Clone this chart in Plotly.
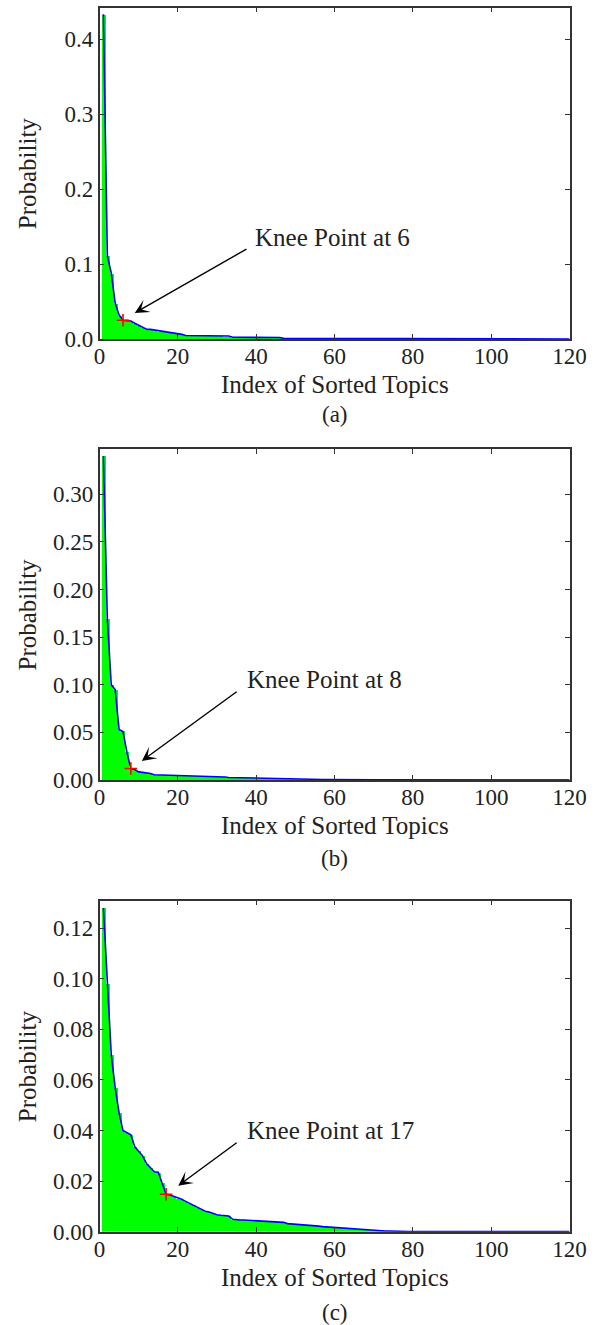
import plotly.graph_objects as go

# ---------------- data ----------------
topic_index = list(range(1, 121))

prob_a = [
    0.433, 0.111, 0.088, 0.048, 0.032, 0.025, 0.0245, 0.024, 0.021, 0.0185,
    0.015, 0.013, 0.0128, 0.012, 0.0105, 0.0098, 0.0097, 0.0085, 0.0072, 0.0067,
    0.0062, 0.0046, 0.0045, 0.0044, 0.0044, 0.0043, 0.0043, 0.0042, 0.0042, 0.0041,
    0.0041, 0.0040, 0.0040, 0.0024, 0.0024, 0.0023, 0.0023, 0.0023, 0.0022, 0.0022,
    0.0022, 0.0021, 0.0021, 0.0021, 0.0020, 0.0020, 0.0009, 0.0009, 0.0009, 0.0008,
    0.0008, 0.0008, 0.0007, 0.0007, 0.0007, 0.0006, 0.0006, 0.0006, 0.0006, 0.0005,
    0.0005, 0.0005, 0.0005, 0.0004, 0.0004, 0.0004, 0.0004, 0.0004, 0.0003, 0.0003,
    0.0003, 0.0003, 0.0003, 0.0003, 0.0003, 0.0002, 0.0002, 0.0002, 0.0002, 0.0002,
    0.0002, 0.0002, 0.0002, 0.0002, 0.0002, 0.0002, 0.0002, 0.0002, 0.0002, 0.0002,
    0.0001, 0.0001, 0.0001, 0.0001, 0.0001, 0.0001, 0.0001, 0.0001, 0.0001, 0.0001,
    0.0001, 0.0001, 0.0001, 0.0001, 0.0001, 0.0001, 0.0001, 0.0001, 0.0001, 0.0001,
    0.0001, 0.0001, 0.0001, 0.0001, 0.0001, 0.00005, 0.00005, 0.00005, 0.00005, 0.00005,
]

prob_b = [
    0.340, 0.169, 0.100, 0.095, 0.053, 0.051, 0.029, 0.012, 0.011, 0.0085,
    0.0080, 0.0075, 0.0068, 0.0055, 0.0054, 0.0053, 0.0052, 0.0050, 0.0049, 0.0048,
    0.0046, 0.0045, 0.0044, 0.0042, 0.0041, 0.0040, 0.0038, 0.0037, 0.0036, 0.0034,
    0.0033, 0.0031, 0.0026, 0.0025, 0.0024, 0.0022, 0.0021, 0.0020, 0.0018, 0.0017,
    0.0016, 0.0015, 0.0015, 0.0014, 0.0013, 0.0013, 0.0012, 0.0011, 0.0011, 0.0010,
    0.0009, 0.0009, 0.0008, 0.0008, 0.0007, 0.0007, 0.0006, 0.0006, 0.0005, 0.0005,
    0.0004, 0.0004, 0.0004, 0.0003, 0.0003, 0.0003, 0.0003, 0.0002, 0.0002, 0.0002,
    0.0002, 0.0002, 0.0001, 0.0001, 0.0001, 0.0001, 0.0001, 0.0001, 0.0001, 0.0001,
    0.00005, 0.00005, 0.00005, 0.00005, 0.00005, 0.00005, 0.00005, 0.00005, 0.00005, 0.00005,
    0.00003, 0.00003, 0.00003, 0.00003, 0.00003, 0.00003, 0.00003, 0.00003, 0.00003, 0.00003,
    0.00002, 0.00002, 0.00002, 0.00002, 0.00002, 0.00002, 0.00002, 0.00002, 0.00002, 0.00002,
    0.00001, 0.00001, 0.00001, 0.00001, 0.00001, 0.00001, 0.00001, 0.00001, 0.00001, 0.00001,
]

prob_c = [
    0.128, 0.098, 0.070, 0.057, 0.047, 0.040, 0.0393, 0.0383, 0.0336, 0.032,
    0.030, 0.027, 0.0255, 0.0237, 0.0235, 0.0195, 0.0148, 0.0145, 0.0140, 0.0132,
    0.0128, 0.0120, 0.0112, 0.0105, 0.0094, 0.0088, 0.0081, 0.0078, 0.0072, 0.0067,
    0.0065, 0.0064, 0.0062, 0.0049, 0.0047, 0.0046, 0.0046, 0.0045, 0.0045, 0.0044,
    0.0043, 0.0042, 0.0041, 0.0040, 0.0040, 0.0039, 0.0037, 0.0032, 0.0031, 0.0030,
    0.0028, 0.0027, 0.0025, 0.0024, 0.0023, 0.0022, 0.0020, 0.0019, 0.0018, 0.0017,
    0.0016, 0.0014, 0.0013, 0.0011, 0.0010, 0.0008, 0.0007, 0.0006, 0.0005, 0.0005,
    0.0004, 0.0004, 0.0003, 0.0003, 0.0002, 0.0002, 0.0001, 0.0001, 0.00005, 0.00003,
    0.00002, 0.00002, 0.00002, 0.00002, 0.00002, 0.00001, 0.00001, 0.00001, 0.00001, 0.00001,
    0.00001, 0.00001, 0.00001, 0.00001, 0.00001, 0.00001, 0.00001, 0.00001, 0.00001, 0.00001,
    0.00001, 0.00001, 0.00001, 0.00001, 0.00001, 0.00001, 0.00001, 0.00001, 0.00001, 0.00001,
    0.00001, 0.00001, 0.00001, 0.00001, 0.00001, 0.00001, 0.00001, 0.00001, 0.00001, 0.00001,
]

knee_points = [6, 8, 17]
panel_labels = ["(a)", "(b)", "(c)"]
x_tick_vals = [0, 20, 40, 60, 80, 100, 120]
x_title = "Index of Sorted Topics"
y_title = "Probability"

# ---------------- layout config ----------------
W, H = 599, 1325
FONT = "Liberation Serif"
TXT = "#222222"
AX = "#333333"


def px_x(v):
    return min(1.0, max(0.0, v / W))


def px_y(v):
    return min(1.0, max(0.0, 1 - v / H))


x_left_px, x_right_px = 99.5, 569.5
panels = [
    dict(series=prob_a, top=7.5, bottom=339.0, yr=[0, 0.442], dtick=0.1, fmt=".1f",
         tail=(37.9, 0.121), head_off=(3.0, 0.0097), text_xy=(39.2, 0.1347)),
    dict(series=prob_b, top=449.0, bottom=780.0, yr=[0, 0.3475], dtick=0.05, fmt=".2f",
         tail=(35.4, 0.0938), head_off=(2.8, 0.008), text_xy=(37.2, 0.105)),
    dict(series=prob_c, top=900.7, bottom=1231.7, yr=[0, 0.1309], dtick=0.02, fmt=".2f",
         tail=(35.4, 0.0356), head_off=(3.1, 0.0034), text_xy=(37.2, 0.0400)),
]

fig = go.Figure()
layout = dict(
    width=W, height=H, margin=dict(l=0, r=0, t=0, b=0, autoexpand=False),
    paper_bgcolor="white", plot_bgcolor="white", showlegend=False,
    bargap=0, font=dict(family=FONT, size=22, color=TXT),
)
annotations = []

for i, p in enumerate(panels):
    n = i + 1
    xa = "x" if n == 1 else f"x{n}"
    ya = "y" if n == 1 else f"y{n}"
    vals = p["series"]
    k = knee_points[i]
    kv = vals[k - 1]

    fig.add_trace(go.Bar(x=topic_index, y=vals, width=1.0, marker=dict(color="#00ff00", line=dict(width=0)),
                         xaxis=xa, yaxis=ya, hoverinfo="skip"))
    fig.add_trace(go.Scatter(x=topic_index, y=vals, mode="lines", line=dict(color="#0000ff", width=1.6),
                             xaxis=xa, yaxis=ya))
    fig.add_trace(go.Scatter(x=[k], y=[kv], mode="markers",
                             marker=dict(symbol="cross-thin", size=9, line=dict(color="red", width=1.6)),
                             xaxis=xa, yaxis=ya))

    ydom = [px_y(p["bottom"]), px_y(p["top"])]
    xdom = [px_x(x_left_px), px_x(x_right_px)]
    axis_common = dict(showline=True, linecolor=AX, linewidth=1.5, mirror="ticks",
                       ticks="inside", ticklen=5, tickwidth=1.2, tickcolor=AX,
                       showgrid=False, zeroline=False,
                       tickfont=dict(family=FONT, size=23, color=TXT))
    layout["xaxis" if n == 1 else f"xaxis{n}"] = dict(
        domain=xdom, anchor=ya, range=[0, 120], tickvals=x_tick_vals,
        ticklabelstandoff=-4, **axis_common)
    layout["yaxis" if n == 1 else f"yaxis{n}"] = dict(
        domain=ydom, anchor=xa, range=p["yr"], dtick=p["dtick"], tick0=0,
        tickformat=p["fmt"], **axis_common)

    # arrow
    annotations.append(dict(
        x=k + p["head_off"][0], y=kv + p["head_off"][1], xref=xa, yref=ya,
        ax=p["tail"][0], ay=p["tail"][1], axref=xa, ayref=ya,
        text="", showarrow=True, arrowhead=3, arrowsize=1.7, arrowwidth=1.4, arrowcolor="black"))
    # knee text
    annotations.append(dict(
        x=p["text_xy"][0], y=p["text_xy"][1], xref=xa, yref=ya, xanchor="left", yanchor="middle",
        text=f"Knee Point at {k}", showarrow=False, font=dict(family=FONT, size=25, color=TXT)))
    # axis titles
    cx = px_x((x_left_px + x_right_px) / 2)
    annotations.append(dict(
        x=cx, y=px_y(p["bottom"] + 46), xref="paper", yref="paper",
        xanchor="center", yanchor="middle", text=x_title, showarrow=False,
        font=dict(family=FONT, size=25, color=TXT)))
    annotations.append(dict(
        x=cx, y=px_y(p["bottom"] + 75 + 3 * i), xref="paper", yref="paper",
        xanchor="center", yanchor="middle", text=panel_labels[i], showarrow=False,
        font=dict(family=FONT, size=23, color=TXT)))
    annotations.append(dict(
        x=px_x(27), y=px_y((p["top"] + p["bottom"]) / 2), xref="paper", yref="paper",
        xanchor="center", yanchor="middle", text=y_title, textangle=-90, showarrow=False,
        font=dict(family=FONT, size=25, color=TXT)))

layout["annotations"] = annotations
fig.update_layout(**layout)
fig.write_html("out.html", config={"displayModeBar": False},
               post_script="document.body.style.margin='0px';")
